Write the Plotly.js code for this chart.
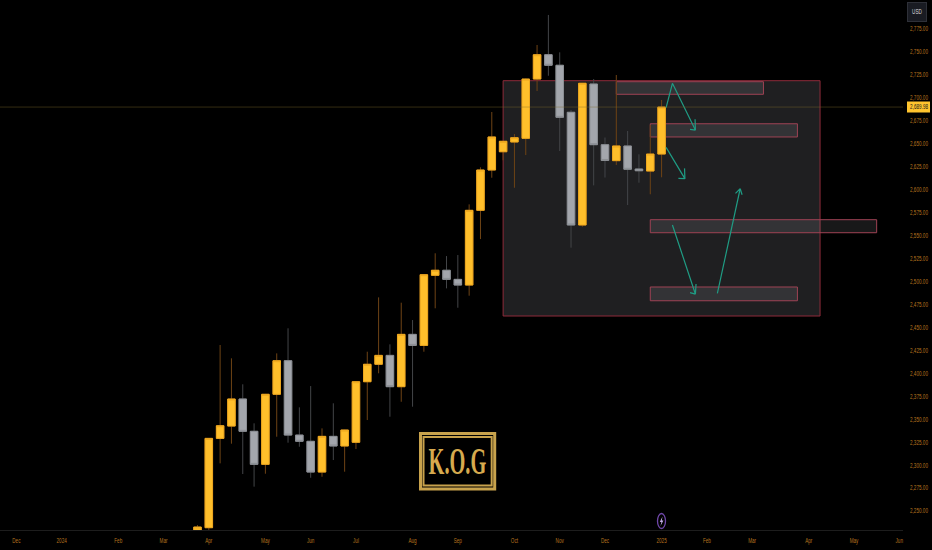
<!DOCTYPE html>
<html><head><meta charset="utf-8">
<script src="https://cdn.plot.ly/plotly-3.0.1.min.js"></script>
<style>html,body{margin:0;padding:0;background:#000}#chart{width:932px;height:550px}</style>
</head><body><div id="chart"></div>
<script>
const dates = ["2024-03-25","2024-04-01","2024-04-08","2024-04-15","2024-04-22","2024-04-29","2024-05-06","2024-05-13","2024-05-20","2024-05-27","2024-06-03","2024-06-10","2024-06-17","2024-06-24","2024-07-01","2024-07-08","2024-07-15","2024-07-22","2024-07-29","2024-08-05","2024-08-12","2024-08-19","2024-08-26","2024-09-02","2024-09-09","2024-09-16","2024-09-23","2024-09-30","2024-10-07","2024-10-14","2024-10-21","2024-10-28","2024-11-04","2024-11-11","2024-11-18","2024-11-25","2024-12-02","2024-12-09","2024-12-16","2024-12-23","2024-12-30","2025-01-06"];
const opens = [2229.2,2231.8,2329.1,2342.5,2372,2336.8,2300.8,2377.1,2413.7,2332.7,2325.9,2292.4,2331.3,2320.8,2324.8,2390.8,2409.8,2419.5,2385.4,2442.4,2430.4,2506.7,2512.2,2502.3,2496.1,2577.5,2621.4,2641.3,2651.9,2655.9,2720.5,2747,2735.5,2684.3,2561.5,2715.1,2649,2631.6,2647.6,2622.5,2620.3,2638.8];
const closes = [2232.5,2329.1,2342.9,2372,2336.8,2300.8,2377.1,2413.7,2332.7,2325.9,2292.4,2331.3,2320.8,2338.2,2390.8,2409.8,2419.5,2385.4,2442.4,2430.4,2507.4,2512.2,2502.3,2496.1,2577.5,2621.4,2657.4,2652.7,2656.6,2720.5,2747,2735.5,2678.8,2561.5,2715.9,2649,2631.8,2647.6,2622.2,2620.6,2638.8,2689.98];
const highs = [2234.7,2329.5,2430.8,2416.3,2388,2345.5,2377.5,2421.7,2449,2362.9,2386.1,2340,2367.3,2338.5,2391,2423.5,2482.7,2431.5,2476.9,2458,2507.5,2530.7,2527.7,2528.8,2584,2624.4,2684.6,2653,2660.6,2721,2757.6,2790.3,2749.6,2686.8,2716.3,2720.5,2656.8,2724.9,2663.9,2638.5,2670.4,2697.7];
const lows = [2229.2,2229.4,2301.9,2323.3,2290.3,2276.5,2290.6,2330.9,2324.4,2320,2286.2,2287.3,2305.5,2292.8,2317.5,2349.1,2400,2352.7,2369,2363.6,2423.5,2470.8,2492.5,2471.4,2484.5,2546.2,2613,2632,2602.1,2637.7,2707.5,2724.1,2642.1,2536.8,2559.6,2604.7,2613.2,2626.9,2583.3,2607.6,2595,2613.5];
const bodyHighs = opens.map((o,i)=>Math.max(o,closes[i]));
const bodyLows = opens.map((o,i)=>Math.min(o,closes[i]));

const xTickDates = ["2023-12-04","2024-01-01","2024-02-05","2024-03-04","2024-04-01","2024-05-06","2024-06-03","2024-07-01","2024-08-05","2024-09-02","2024-10-07","2024-11-04","2024-12-02","2025-01-06","2025-02-03","2025-03-03","2025-04-07","2025-05-05","2025-06-02"];
const xTickLabels = ["Dec","2024","Feb","Mar","Apr","May","Jun","Jul","Aug","Sep","Oct","Nov","Dec","2025","Feb","Mar","Apr","May","Jun"];
const yTicks = [2250,2275,2300,2325,2350,2375,2400,2425,2450,2475,2500,2525,2550,2575,2600,2625,2650,2675,2700,2725,2750,2775];
const lastPrice = 2689.98;

// zones: [start, end, top price, bottom price]
const bigBox = ["2024-09-30","2025-04-14",2718.7,2462.4];
const zones = [
  ["2024-12-09","2025-03-10",2717.6,2703.9],
  ["2024-12-30","2025-03-31",2671.8,2657.4],
  ["2024-12-30","2025-05-19",2567.3,2553.1],
  ["2024-12-30","2025-03-31",2494,2479]
];
// arrows: day offsets from 2024-04-01, and prices (null = break)
const arrowDays = [282.8,286.7,300.9,297.6,null,300.9,300.7,null,282.8,294.4,290.4,null,294.4,294.2,null,286.7,300.9,297.6,null,300.9,301.3,null,314.5,328.6,325.7,null,328.6,329.8];
const arrowPrices = [2689.3,2715.8,2664.9,2665.7,null,2664.9,2676.6,null,2646.1,2612,2612.3,null,2612,2623.2,null,2561.5,2486.3,2487.8,null,2486.3,2497.2,null,2487,2601,2596,null,2601,2594.5];
const arrowX = arrowDays.map(d=>d===null?null:new Date(Date.UTC(2024,3,1)+d*864e5).toISOString());

const axisColor = '#b8741f';
const tickFont = {family:'"Liberation Sans",sans-serif',size:7,color:axisColor};

const zoneShapes = zones.map(z=>({type:'rect',layer:'below',xref:'x',yref:'y',x0:z[0],x1:z[1],y0:z[2],y1:z[3],fillcolor:'rgba(200,200,205,0.12)',line:{color:'#9e4254',width:1}}));

const traces = [
 {type:'candlestick',x:dates,open:opens,high:highs,low:lows,close:closes,whiskerwidth:0,hoverinfo:'skip',showlegend:false,
  increasing:{line:{color:'#6e4315',width:1},fillcolor:'#6e4315'},decreasing:{line:{color:'#434548',width:1},fillcolor:'#434548'}},
 {type:'candlestick',x:dates,open:opens,high:bodyHighs,low:bodyLows,close:closes,whiskerwidth:0,hoverinfo:'skip',showlegend:false,
  increasing:{line:{color:'#eea81f',width:1},fillcolor:'#ffbf2b'},decreasing:{line:{color:'#8c8f95',width:1},fillcolor:'#a3a6ac'}},
 {type:'scatter',mode:'lines',x:arrowX,y:arrowPrices,connectgaps:false,hoverinfo:'skip',showlegend:false,line:{color:'#1f9c84',width:1.2}}
];

const layout = {
 width:932,height:550,autosize:false,margin:{l:0,r:29,t:0,b:20,pad:0},
 paper_bgcolor:'#000',plot_bgcolor:'#000',showlegend:false,boxgap:0.05,dragmode:false,
 xaxis:{type:'date',range:["2023-11-23 21:00","2025-06-04 07:00"],rangeslider:{visible:false},showgrid:false,zeroline:false,
  tickmode:'array',tickvals:xTickDates,ticktext:xTickLabels,tickangle:0,ticks:'',ticklabelstandoff:4,tickfont:tickFont,
  showline:true,linecolor:'#1d1d1d',linewidth:1,automargin:false},
 yaxis:{side:'right',range:[2229.3,2806.6],showgrid:false,zeroline:false,tickmode:'array',tickvals:yTicks,tickformat:',.2f',
  ticks:'',ticklabelstandoff:6,tickfont:tickFont,showline:false,automargin:false},
 shapes:[
  {type:'rect',layer:'below',xref:'x',yref:'y',x0:bigBox[0],x1:bigBox[1],y0:bigBox[2],y1:bigBox[3],fillcolor:'#1f1f21',line:{color:'#8e2b3a',width:1}},
  ...zoneShapes,
  {type:'line',layer:'above',xref:'paper',yref:'y',x0:0,x1:1,y0:lastPrice,y1:lastPrice,line:{color:'rgba(130,110,45,0.4)',width:1}},
  {type:'rect',layer:'above',xref:'paper',yref:'paper',x0:420.5/903,x1:494.7/903,y0:1-433.5/530,y1:1-489/530,line:{color:'#c7a24c',width:3}},
  {type:'rect',layer:'above',xref:'paper',yref:'paper',x0:423.5/903,x1:491.7/903,y0:1-437/530,y1:1-485.5/530,line:{color:'#c7a24c',width:2}},
  {type:'circle',layer:'above',xref:'paper',yref:'paper',x0:657.5/903,x1:665.5/903,y0:1-513.5/530,y1:1-528.5/530,line:{color:'#6f47a8',width:1.3}},
  {type:'path',layer:'above',xref:'paper',yref:'paper',
   path:[[662.5,516.5],[659.8,522],[661.4,522],[660.5,526],[663.4,520.5],[661.8,520.5]].map((p,i)=>(i?'L':'M')+(p[0]/903)+','+(1-p[1]/530)).join(' ')+' Z',
   fillcolor:'#c4aee6',line:{width:0}}
 ],
 annotations:[
  {xref:'paper',yref:'y',x:918.5/903,y:lastPrice,xanchor:'center',yanchor:'middle',text:lastPrice.toLocaleString('en-US',{minimumFractionDigits:2}),showarrow:false,width:32,height:10,bgcolor:'#ffc42e',borderpad:0,
   font:{family:tickFont.family,size:7,color:'#1a1a1a'}},
  {xref:'paper',yref:'paper',x:917.5/903,y:1-11.5/530,xanchor:'center',yanchor:'middle',text:'USD',showarrow:false,width:18,height:18,bgcolor:'#191b22',bordercolor:'#2e3038',borderwidth:1,borderpad:0,
   font:{family:tickFont.family,size:7,color:'#d8d8d8'}},
  {xref:'paper',yref:'paper',x:457.5/903,y:1-461/530,xanchor:'center',yanchor:'middle',text:'<b>K.O.G</b>',showarrow:false,
   font:{family:'"Liberation Serif",serif',size:37,color:'#d6aa4e'}}
 ]
};

Plotly.newPlot('chart',traces,layout,{displayModeBar:false,staticPlot:true}).then(()=>{
  const squeeze = (t,s)=>{const x=parseFloat(t.getAttribute('x'))||0;const old=t.getAttribute('transform')||'';
    t.setAttribute('transform',old+` translate(${x},0) scale(${s},1) translate(${-x},0)`);};
  document.querySelectorAll('.xtick text,.ytick text').forEach(t=>squeeze(t,0.66));
  document.querySelectorAll('.annotation-text').forEach(t=>{
    t.style.transformBox='fill-box';t.style.transformOrigin='center';
    t.style.transform = t.textContent==='K.O.G' ? 'scaleX(0.55)' : 'scaleX(0.66)';
  });
  // price tag background narrowed to match the squeezed label
  document.querySelectorAll('.annotation').forEach(a=>{
    if(a.textContent===lastPrice.toLocaleString('en-US',{minimumFractionDigits:2})){
      const bg=a.querySelector('rect.bg'); if(bg){bg.setAttribute('x',parseFloat(bg.getAttribute('x'))+4.5);bg.setAttribute('width',23);}
    }
  });
});
</script></body></html>
